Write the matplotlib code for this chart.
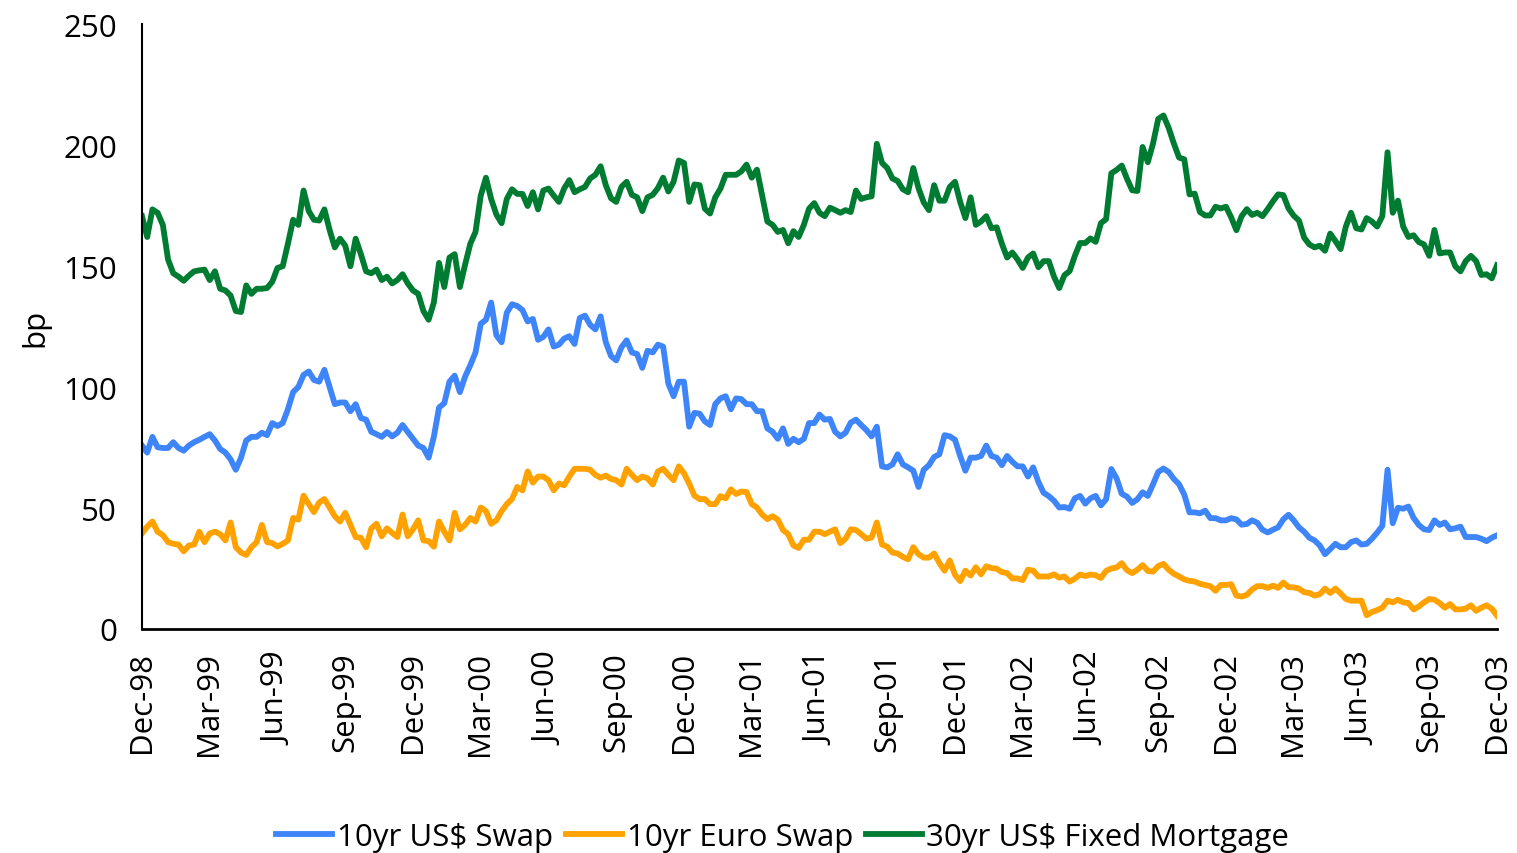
import matplotlib
matplotlib.use("Agg")
import matplotlib.pyplot as plt
import matplotlib.dates as mdates
import pandas as pd

dates = pd.date_range("1998-12-01", "2003-12-01", periods=261)

us_swap = [
    75.8, 72.9, 79.4, 75.1, 74.8, 74.8, 77.2, 74.8, 73.7, 75.8, 77.2, 78.2, 79.4, 80.5, 77.9, 74.4,
    72.9, 70.1, 65.8, 70.8, 77.9, 79.4, 79.4, 81.1, 80.1, 85.1, 83.9, 85.1, 90.8, 97.9, 100.0, 105.0,
    106.4, 102.9, 102.2, 107.1, 100.0, 92.9, 93.6, 93.6, 90.0, 92.9, 87.2, 86.5, 81.5,
    80.5, 79.4, 81.4, 79.6, 81.1, 84.3, 81.4, 78.6, 75.8, 74.8, 70.8, 79.4, 91.5, 93.3, 102.2, 104.7,
    97.9, 104.3, 109.0, 114.3, 126.1, 127.8, 134.9, 121.4, 118.5, 130.7, 134.2, 133.5, 131.8, 127.1,
    128.1, 119.5, 120.7, 123.8, 116.7, 117.5, 120.0, 121.0, 117.8, 128.5, 129.5, 125.7, 123.8, 129.2,
    118.5, 112.8, 111.0, 116.4, 119.3, 114.3, 113.6, 107.9, 115.0, 114.3, 117.5, 116.7, 101.4, 96.2,
    102.2, 102.2, 83.6, 89.3, 89.0, 85.8, 84.3, 92.9, 95.3, 96.2, 90.8, 95.3, 95.0, 92.9, 92.9, 90.0,
    90.0, 82.9, 81.5, 78.6, 82.9, 76.5, 78.6, 77.2, 78.6, 85.1, 85.1, 88.6, 86.5, 86.8,
    81.5, 79.6, 81.1, 85.3, 86.5, 84.3, 82.2, 79.6, 83.6, 67.2, 66.8, 68.0, 72.2, 68.0, 66.8, 65.4,
    58.7, 65.8, 67.7, 71.1, 72.2, 80.1, 79.6, 78.2, 71.5, 65.4, 70.8, 70.8, 71.5, 75.8, 71.5, 70.8,
    67.7, 71.5, 69.1, 67.2, 67.2, 63.0, 66.8, 60.8, 56.3, 54.9, 53.0, 50.2,
    50.4, 49.7, 54.0, 55.0, 51.8, 54.0, 55.0, 51.1, 53.6, 66.1, 62.3, 55.9, 54.7, 52.1, 53.6, 56.5,
    55.0, 59.8, 64.9, 66.3, 64.9, 62.0, 59.8, 55.5, 48.2, 48.2, 47.8, 48.9, 45.8, 45.8, 44.9, 44.9,
    45.8, 45.3, 43.1, 43.4, 44.9, 43.9, 41.0, 39.9, 41.0, 42.0, 45.3, 47.2,
    44.9, 42.0, 40.2, 37.7, 36.6, 34.5, 30.9, 33.0, 35.2, 33.8, 33.8, 35.9, 36.6, 34.9, 35.2, 37.3,
    39.8, 42.6, 65.8, 43.7, 50.1, 49.7, 50.6, 45.9, 43.0, 41.2, 40.9, 44.9, 43.0, 44.0, 41.2, 41.6,
    42.3, 38.0, 38.0, 38.0, 37.3, 36.3, 37.7, 38.7,
]

euro_swap = [
    39.5, 42.3, 44.4, 40.2, 38.8, 35.9, 35.2, 34.9, 32.1, 34.5, 34.9, 40.2, 35.9, 39.5, 40.2, 39.2,
    36.6, 44.0, 33.8, 31.6, 30.6, 33.8, 35.9, 43.0, 35.9, 35.5, 34.1, 35.2, 36.6, 45.9, 45.2, 55.1,
    51.6, 48.3, 52.3, 53.7, 50.2, 46.6, 44.4, 48.0, 43.0, 38.0, 37.7, 33.8, 41.6,
    43.5, 38.3, 41.6, 39.7, 38.0, 47.3, 38.3, 41.2, 44.9, 36.6, 36.3, 34.0, 44.4, 40.2, 36.6, 48.0,
    41.2, 43.0, 45.9, 44.4, 50.2, 48.7, 43.5, 44.9, 48.7, 51.6, 53.7, 58.7, 57.3, 65.1, 60.5, 63.0,
    63.0, 61.5, 57.3, 60.1, 59.4, 63.0, 66.2, 66.2, 66.2, 65.8, 63.7, 62.5,
    63.4, 62.0, 61.5, 59.7, 66.2, 63.7, 61.5, 63.0, 62.3, 59.7, 65.1, 66.2, 63.7, 61.5, 67.2, 64.4,
    60.1, 55.1, 53.7, 53.7, 51.6, 51.6, 54.9, 54.0, 57.7, 55.8, 56.8, 56.6, 51.6, 50.2, 47.3, 45.4,
    46.6, 45.2, 40.9, 39.2, 34.5, 33.5, 36.9, 36.9, 40.2, 40.2, 39.2, 40.2,
    41.2, 35.5, 37.3, 41.2, 40.9, 39.2, 37.3, 37.8, 44.0, 34.9, 34.0, 31.6, 31.2, 29.8, 28.8, 33.8,
    30.9, 29.5, 29.5, 31.2, 27.3, 24.1, 28.3, 22.4, 19.8, 24.1, 22.1, 25.5, 22.6, 25.9, 25.2, 24.9,
    23.5, 23.1, 20.9, 20.9, 20.2, 24.5, 24.1, 21.7, 21.7, 21.7, 22.6, 21.2,
    21.7, 19.6, 20.8, 22.5, 21.9, 22.5, 22.2, 21.1, 24.0, 25.0, 25.4, 27.2, 24.3, 23.1, 24.5, 26.4,
    24.0, 23.7, 26.0, 26.9, 24.5, 22.8, 21.7, 20.5, 19.9, 19.6, 18.7, 18.2, 17.7, 15.8, 18.2, 18.2,
    18.5, 13.8, 13.4, 14.1, 16.3, 17.7, 17.7, 17.0, 17.9, 17.0, 19.2, 17.3,
    17.2, 16.7, 15.2, 14.9, 13.8, 14.4, 16.7, 14.9, 16.7, 14.7, 12.4, 11.7, 11.7, 11.7, 5.7, 7.0,
    7.8, 8.8, 11.7, 11.0, 12.1, 11.0, 10.7, 8.1, 9.3, 11.0, 12.4, 12.1, 10.7, 8.8, 10.3, 8.1,
    8.1, 8.4, 9.8, 7.5, 8.8, 9.8, 8.4, 5.5,
]

mortgage = [
    170.6, 162.0, 173.4, 172.0, 167.0, 152.7, 147.0, 145.6, 143.9, 146.0, 147.8, 148.2, 148.5, 144.2, 147.8, 140.6,
    139.9, 137.8, 131.4, 131.0, 142.0, 138.5, 140.6, 140.6, 140.9, 143.5, 149.2, 149.9, 159.2, 169.1, 167.0, 181.2,
    172.7, 169.1, 168.8, 173.4, 164.9, 157.7, 161.3, 158.4, 149.9, 161.3, 154.9, 147.8, 147.0,
    148.5, 144.2, 145.6, 142.8, 144.2, 146.6, 142.8, 139.9, 138.5, 131.4, 127.8, 134.9, 151.3, 141.3, 153.5, 154.9,
    141.3, 150.6, 159.2, 164.1, 179.1, 186.5, 177.7, 171.3, 167.7, 177.7, 181.7, 179.8, 179.8, 174.8,
    180.5, 173.4, 181.2, 182.0, 179.1, 176.5, 182.0, 185.5, 180.5, 181.7, 182.7, 186.2, 187.7, 191.2,
    183.4, 178.0, 176.5, 182.7, 184.8, 179.4, 178.4, 172.7, 178.4, 179.4, 182.2, 186.5, 180.8, 184.8,
    193.6, 192.6, 176.5, 183.7, 183.4, 173.7, 171.7, 178.4, 182.0, 187.7, 187.7, 187.7, 189.1, 191.9,
    186.5, 189.8, 179.1, 168.4, 167.0, 164.1, 164.9, 159.4, 164.4, 162.0, 167.0, 173.7, 176.0, 172.0,
    170.6, 174.1,
    173.1, 172.0, 173.1, 172.3, 181.2, 177.7, 178.4, 178.8, 200.5, 192.6, 190.5, 186.2, 185.1, 181.7,
    180.5, 190.5, 182.2, 176.3, 173.1, 183.4, 177.0, 177.0, 182.7, 184.8, 176.5, 169.8, 178.4, 167.0,
    168.4, 170.6, 165.6, 166.0, 159.2, 153.5, 155.6, 152.7, 149.2, 153.5, 155.2, 149.5, 152.0, 152.0,
    145.6, 140.9,
    146.2, 147.9, 154.2, 159.5, 159.5, 161.4, 160.0, 167.7, 169.4, 188.3, 189.7, 191.5, 186.1, 181.3,
    181.0, 199.2, 192.9, 200.6, 210.8, 212.2, 207.1, 200.6, 194.8, 194.1, 179.6, 179.9, 172.3, 170.9,
    170.9, 174.5, 173.8, 174.5, 170.1, 164.8, 170.6, 173.5, 171.1, 172.0, 170.6, 173.5, 176.7, 179.6,
    179.3, 173.8,
    170.8, 168.8, 161.7, 158.9, 157.7, 158.4, 156.3, 163.4, 160.3, 157.0, 166.3, 172.0, 165.6, 165.1,
    169.8, 168.4, 166.3, 170.6, 197.0, 172.0, 177.0, 166.3, 162.0, 162.7, 159.9, 158.9, 154.2, 164.9,
    155.2, 155.6, 155.6, 149.9, 147.8, 152.0, 154.2, 152.0, 146.3, 146.6, 144.9, 150.3,
]

labels = ["10yr US$ Swap", "10yr Euro Swap", "30yr US$ Fixed Mortgage"]
colors = ["#3D85F8", "#FFA200", "#007C32"]

plt.rcParams["font.family"] = ["Open Sans", "DejaVu Sans"]
FS = 22.5

fig = plt.figure(figsize=(15.17, 8.54), dpi=100)
ax = fig.add_axes([0.0936, 0.2623, 0.8932, 0.7084])

for vals, lab, col in zip([us_swap, euro_swap, mortgage], labels, colors):
    ax.plot(dates, vals, color=col, lw=4.2, label=lab, solid_joinstyle="round")

ax.set_ylim(0, 250)
ax.set_yticks([0, 50, 100, 150, 200, 250])
ax.set_xlim(pd.Timestamp("1998-12-01"), pd.Timestamp("2003-12-01"))
ticks = pd.date_range("1998-12-01", "2003-12-01", freq="3MS")
ax.set_xticks(ticks)
ax.xaxis.set_major_formatter(mdates.DateFormatter("%b-%y"))
ax.tick_params(axis="x", rotation=90, length=0, labelsize=FS, pad=16)
ax.tick_params(axis="y", length=0, labelsize=FS, pad=18)
ax.set_ylabel("bp", fontsize=FS, labelpad=9)

for s in ["top", "right"]:
    ax.spines[s].set_visible(False)
ax.spines["left"].set_color("black")
ax.spines["left"].set_linewidth(1.5)
ax.spines["bottom"].set_color("black")
ax.spines["bottom"].set_linewidth(2)

fig.legend(loc="lower center", bbox_to_anchor=(0.516, -0.032), ncol=3, frameon=False,
           fontsize=FS, handlelength=1.8, handletextpad=0.15, columnspacing=0.4)

fig.savefig("out.png", dpi=100)
